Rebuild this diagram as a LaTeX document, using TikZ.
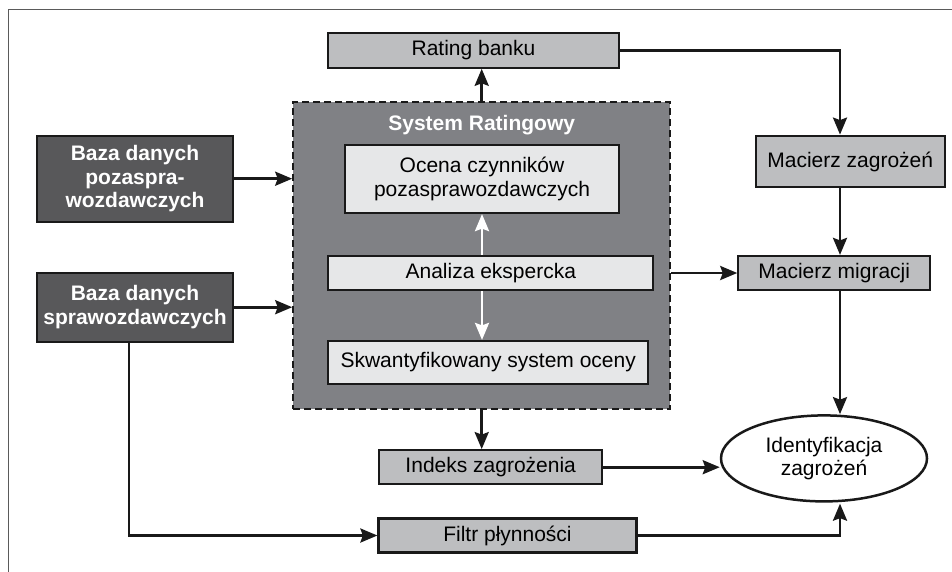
\documentclass[tikz,border=0pt]{standalone}
\usepackage{fontspec}
\setmainfont{Liberation Sans}
\usepackage{tikz}
\usetikzlibrary{positioning, arrows.meta, shapes.geometric}
\definecolor{bDark}{HTML}{58585A}
\definecolor{bMid}{HTML}{BDBEC0}
\definecolor{bSys}{HTML}{808185}
\definecolor{bLight}{HTML}{E6E7E8}
\definecolor{bFrame}{HTML}{5A5A5A}
\tikzset{
  box/.style={draw=black!90, line width=2.2pt, inner sep=2pt, align=center,
    font=\fontsize{21}{23.5}\selectfont},
  darkbox/.style={box, fill=bDark, text=white, font=\fontsize{21}{23.5}\selectfont\bfseries},
  greybox/.style={box, fill=bMid},
  lightbox/.style={box, fill=bLight},
  sysbox/.style={draw=black!90, line width=2pt, dash pattern=on 7pt off 4pt, fill=bSys},
  flow/.style={-{Stealth[length=17pt, width=14pt, inset=2.5pt]}, line width=2.7pt, black!90},
  wflow/.style={flow, white},
}

\begin{document}
\begin{tikzpicture}[x=1pt, y=-1pt]
        \useasboundingbox (0,0) rectangle (952,571);
        \draw[bFrame, line width=1.5pt] (8.5,575) -- (8.5,9.5) -- (956,9.5);
        % rating system block
        \node[sysbox, minimum width=377pt, minimum height=307pt] (sys) at (481.7,255.5) {};
        \node[text=white, font=\fontsize{21}{23.5}\selectfont\bfseries] (systitle) at (481.7,125) {System Ratingowy};
        \node[lightbox, minimum width=274pt, minimum height=68pt] (ocena) at (482,179) {Ocena czynników\\pozasprawozdawczych};
        \node[lightbox, minimum width=325pt, minimum height=34pt] (anal) at (490.8,273) {Analiza ekspercka};
        \node[lightbox, minimum width=320pt, minimum height=43pt] (skwant) at (488.2,362.5) {Skwantyfikowany system oceny};
        % inputs
        \node[darkbox, minimum width=196pt, minimum height=86pt] (bazaA) at (135,178.7) {Baza danych\\pozaspra-\\wozdawczych};
        \node[darkbox, minimum width=196pt, minimum height=69pt] (bazaB) at (135,307.2) {Baza danych\\sprawozdawczych};
        % outputs
        \node[greybox, minimum width=291pt, minimum height=35pt] (rating) at (473.5,50.2) {Rating banku};
        \node[greybox, minimum width=223pt, minimum height=34pt] (indeks) at (490.7,467.2) {Indeks zagrożenia};
        \node[greybox, minimum width=258pt, minimum height=34pt] (filtr) at (507.5,535.5) {Filtr płynności};
        \node[greybox, minimum width=189pt, minimum height=51.6pt] (mzag) at (850.2,161.5) {Macierz zagrożeń};
        \node[greybox, minimum width=191.7pt, minimum height=34pt] (mmig) at (834.2,273) {Macierz migracji};
        \node[box, ellipse, fill=white, line width=2.5pt, minimum width=206pt, minimum height=86pt, inner sep=0pt] (ident) at (824,458.4) {Identyfikacja\\zagrożeń};
        \coordinate (col) at (840,0);
        % connectors
        \draw[flow] (bazaA.east) -- (bazaA.east -| sys.west);
        \draw[flow] (bazaB.east) -- (bazaB.east -| sys.west);
        \draw[flow] ([xshift=-6pt]bazaB.south) |- (filtr.west);
        \draw[flow] (sys.north) -- (sys.north |- rating.south);
        \draw[flow] (sys.south) -- (sys.south |- indeks.north);
        \draw[wflow] (anal.north -| ocena) -- (ocena.south);
        \draw[wflow] (anal.south -| ocena) -- (skwant.north -| ocena);
        \draw[flow] (rating.east) -| (mzag.north -| col);
        \draw[flow] (mzag.south -| col) -- (mmig.north -| col);
        \draw[flow] (mmig.south -| col) -- (ident.north -| col);
        \draw[flow] (sys.east |- anal) -- (mmig.west);
        \draw[flow] (indeks.east) -- (indeks.east -| ident.west);
        \draw[flow] (filtr.east) -| ([yshift=-1pt]ident.south -| col);
      \end{tikzpicture}
\end{document}
